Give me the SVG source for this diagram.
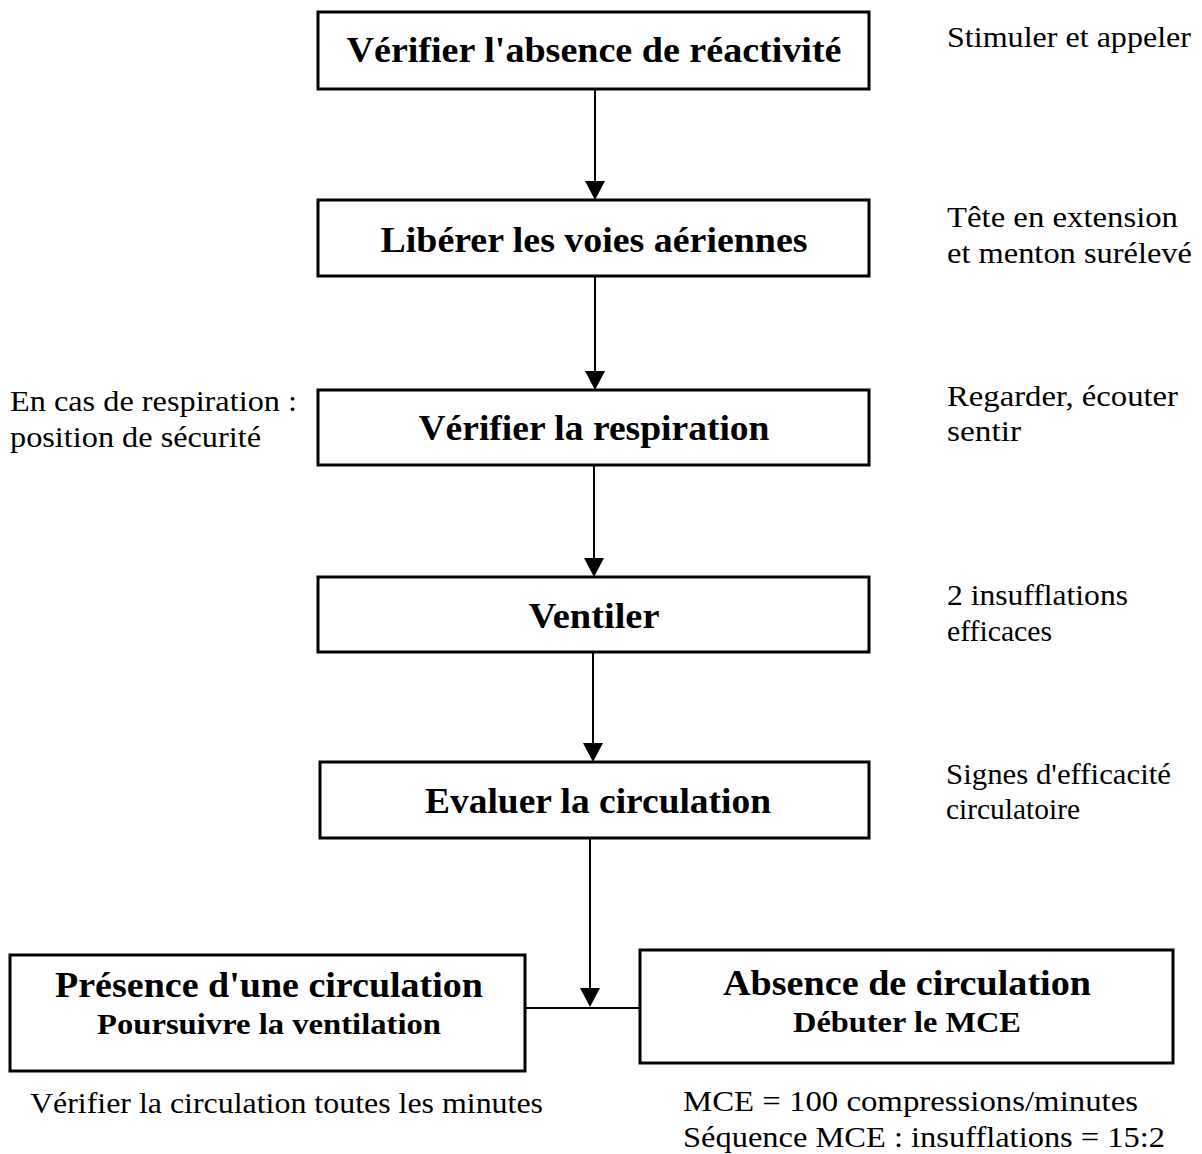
<svg xmlns="http://www.w3.org/2000/svg" width="1202" height="1154" viewBox="0 0 1202 1154">
<style>
.box{fill:#fff;stroke:#000;stroke-width:3}
.bt{font-family:"Liberation Serif",serif;font-weight:bold;font-size:36px;fill:#000;text-anchor:middle}
.bs{font-family:"Liberation Serif",serif;font-weight:bold;font-size:29px;fill:#000;text-anchor:middle}
.nt{font-family:"Liberation Serif",serif;font-size:30px;fill:#000}
.ln{stroke:#000;stroke-width:2;fill:none}
</style>
<rect width="1202" height="1154" fill="#fff"/>
<g id="connectors">
<line class="ln" x1="595" y1="90" x2="595" y2="182"/><path d="M585,181 L605,181 L595,200 Z"/>
<line class="ln" x1="595" y1="276" x2="595" y2="372"/><path d="M585,371 L605,371 L595,390 Z"/>
<line class="ln" x1="594" y1="465" x2="594" y2="559"/><path d="M584,558 L604,558 L594,577 Z"/>
<line class="ln" x1="593" y1="652" x2="593" y2="744"/><path d="M583,743 L603,743 L593,762 Z"/>
<line class="ln" x1="590" y1="838" x2="590" y2="989"/><path d="M580,988 L600,988 L590,1007 Z"/>
<line class="ln" x1="525" y1="1008" x2="640" y2="1008"/>
</g>
<g id="n1"><rect class="box" x="318" y="12" width="551" height="77"/><text class="bt" x="594" y="62" textLength="495" lengthAdjust="spacingAndGlyphs">Vérifier l'absence de réactivité</text></g>
<g id="n2"><rect class="box" x="318" y="200" width="551" height="76"/><text class="bt" x="594" y="252" textLength="427" lengthAdjust="spacingAndGlyphs">Libérer les voies aériennes</text></g>
<g id="n3"><rect class="box" x="318" y="390" width="551" height="75"/><text class="bt" x="594" y="440" textLength="351" lengthAdjust="spacingAndGlyphs">Vérifier la respiration</text></g>
<g id="n4"><rect class="box" x="318" y="577" width="551" height="75"/><text class="bt" x="594" y="628" textLength="131" lengthAdjust="spacingAndGlyphs">Ventiler</text></g>
<g id="n5"><rect class="box" x="320" y="762" width="549" height="76"/><text class="bt" x="598" y="813" textLength="346" lengthAdjust="spacingAndGlyphs">Evaluer la circulation</text></g>
<g id="n6"><rect class="box" x="10" y="955" width="515" height="116"/><text class="bt" x="269" y="997" textLength="428" lengthAdjust="spacingAndGlyphs">Présence d'une circulation</text><text class="bs" x="269" y="1034" textLength="344" lengthAdjust="spacingAndGlyphs">Poursuivre la ventilation</text></g>
<g id="n7"><rect class="box" x="640" y="950" width="533" height="113"/><text class="bt" x="907" y="995" textLength="368" lengthAdjust="spacingAndGlyphs">Absence de circulation</text><text class="bs" x="907" y="1032" textLength="228" lengthAdjust="spacingAndGlyphs">Débuter le MCE</text></g>
<g id="notes">
<text class="nt" x="947" y="47" textLength="244" lengthAdjust="spacingAndGlyphs">Stimuler et appeler</text>
<text class="nt" x="947" y="227" textLength="231" lengthAdjust="spacingAndGlyphs">Tête en extension</text>
<text class="nt" x="947" y="263" textLength="245" lengthAdjust="spacingAndGlyphs">et menton surélevé</text>
<text class="nt" x="947" y="406" textLength="231" lengthAdjust="spacingAndGlyphs">Regarder, écouter</text>
<text class="nt" x="947" y="441" textLength="74" lengthAdjust="spacingAndGlyphs">sentir</text>
<text class="nt" x="947" y="605" textLength="181" lengthAdjust="spacingAndGlyphs">2 insufflations</text>
<text class="nt" x="947" y="641" textLength="105" lengthAdjust="spacingAndGlyphs">efficaces</text>
<text class="nt" x="946" y="784" textLength="225" lengthAdjust="spacingAndGlyphs">Signes d'efficacité</text>
<text class="nt" x="946" y="819" textLength="134" lengthAdjust="spacingAndGlyphs">circulatoire</text>
<text class="nt" x="10" y="411" textLength="287" lengthAdjust="spacingAndGlyphs">En cas de respiration :</text>
<text class="nt" x="10" y="447" textLength="251" lengthAdjust="spacingAndGlyphs">position de sécurité</text>
<text class="nt" x="30" y="1113" textLength="513" lengthAdjust="spacingAndGlyphs">Vérifier la circulation toutes les minutes</text>
<text class="nt" x="683" y="1111" textLength="455" lengthAdjust="spacingAndGlyphs">MCE = 100 compressions/minutes</text>
<text class="nt" x="683" y="1147" textLength="482" lengthAdjust="spacingAndGlyphs">Séquence MCE : insufflations = 15:2</text>
</g>
</svg>
